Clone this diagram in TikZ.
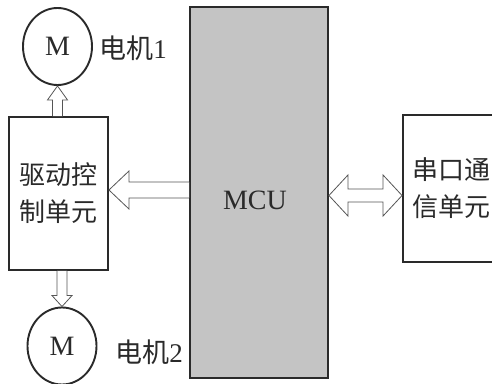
\documentclass[tikz,border=0pt]{standalone}
\usepackage{fontspec}
\setmainfont{Liberation Serif}
\newfontfamily\cjk{Noto Sans CJK SC}
\usetikzlibrary{shapes.geometric,calc}
\definecolor{ink}{HTML}{2A2A2A}
\definecolor{arrowline}{HTML}{555555}
\definecolor{mcufill}{HTML}{C4C4C4}
\tikzset{
  unitbox/.style={draw=ink, line width=1.9pt, rectangle, inner sep=0pt,
    font=\cjk\fontsize{26}{37}\selectfont, text=ink, align=center},
  motor/.style={draw=ink, line width=1.9pt, ellipse, inner sep=0pt,
    minimum width=69pt, minimum height=77pt,
    font=\fontsize{28}{30}\selectfont, text=ink},
  latinlabel/.style={font=\fontsize{28}{30}\selectfont, text=ink, inner sep=0pt},
  motorlabel/.style={font=\fontsize{27}{30}\selectfont, text=ink, inner sep=0pt},
  hollow/.style={draw=arrowline, line width=0.8pt, fill=white, line join=miter}
}
\begin{document}
\begin{tikzpicture}[x=1pt,y=1pt]
  \clip (0,0) rectangle (492,383);
  \fill[white] (0,0) rectangle (492,383);

  % blocks
  \node[unitbox, fill=mcufill, minimum width=138pt, minimum height=371pt] (mcu) at (259,190.5) {};
  \node[latinlabel] (mcutext) at ($(mcu.center)+(-4,-8)$) {MCU};
  \node[unitbox, minimum width=99pt, minimum height=153pt] (drive) at (58.5,189.5)
        {驱动控\\制单元};
  \node[unitbox, minimum width=97pt, minimum height=147pt] (comm) at (451.5,194.5)
        {串口通\\信单元};

  % motors
  \node[motor] (m1) at (57.5,336.5) {M};
  \node[motor] (m2) at (62,37) {M};
  \node[motorlabel] (l1) at (133,335) {{\cjk 电机}1};
  \node[motorlabel] (l2) at (149,31) {{\cjk 电机}2};

  % drive unit -> motor 1
  \draw[hollow] let \p1=(drive.north), \p2=(m1.south) in
    (\x2-5,\y1) -- (\x2-5,\y2-14) -- (\x2-10,\y2-14) -- (\x2,\y2)
    -- (\x2+10,\y2-14) -- (\x2+5,\y2-14) -- (\x2+5,\y1);

  % drive unit -> motor 2
  \draw[hollow] let \p1=(drive.south), \p2=(m2.north) in
    (\x2-5,\y1) -- (\x2-5,\y2+11) -- (\x2-10,\y2+11) -- (\x2,\y2)
    -- (\x2+10,\y2+11) -- (\x2+5,\y2+11) -- (\x2+5,\y1);

  % MCU -> drive unit
  \draw[hollow] let \p1=(drive.east), \p2=(mcu.west) in
    (\x2,\y1+11.5) -- (\x1+20,\y1+11.5) -- (\x1+20,\y1+22.5) -- (\x1,\y1+3.5)
    -- (\x1+20,\y1-15.5) -- (\x1+20,\y1-4.5) -- (\x2,\y1-4.5);

  % MCU <-> serial unit
  \draw[hollow] let \p1=(mcu.east), \p2=(comm.west) in
    (\x1,\y2-7) -- (\x1+19,\y2+13.5) -- (\x1+19,\y2-0.5) -- (\x2-19,\y2-0.5)
    -- (\x2-19,\y2+13.5) -- (\x2,\y2-7) -- (\x2-19,\y2-27.5) -- (\x2-19,\y2-13.5)
    -- (\x1+19,\y2-13.5) -- (\x1+19,\y2-27.5) -- cycle;
\end{tikzpicture}
\end{document}
